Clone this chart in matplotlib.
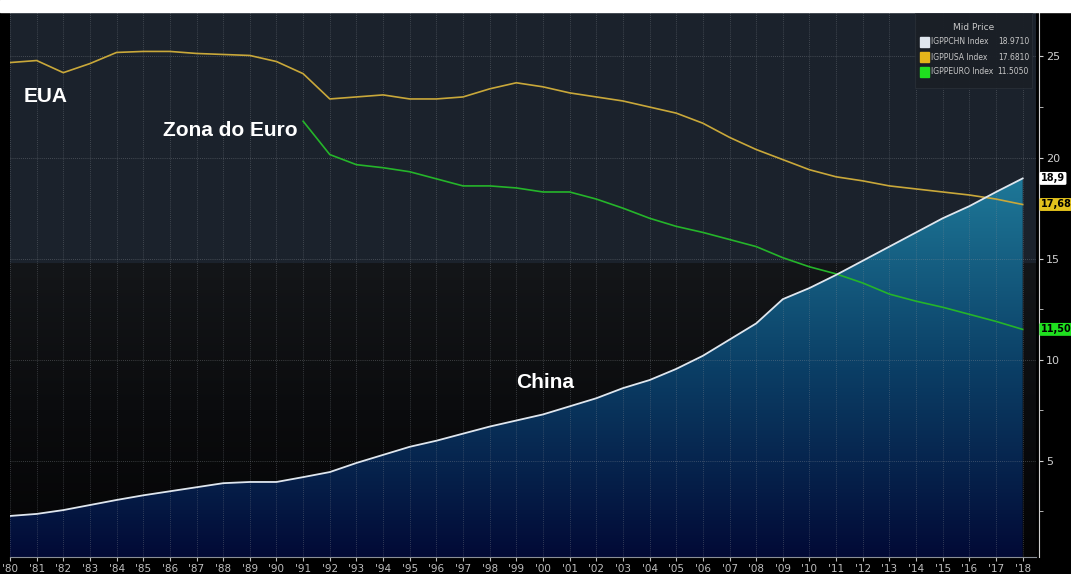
import matplotlib
matplotlib.use("Agg")
import matplotlib.pyplot as plt
import numpy as np
from matplotlib.colors import LinearSegmentedColormap

years = list(range(1980, 2019))
tick_labels = ["'%02d" % (y % 100) for y in years]

usa = [24.7, 24.8, 24.2, 24.65, 25.2, 25.25, 25.25, 25.15, 25.1, 25.05,
       24.75, 24.15, 22.9, 23.0, 23.1, 22.9, 22.9, 23.0, 23.4, 23.7,
       23.5, 23.2, 23.0, 22.8, 22.5, 22.2, 21.7, 21.0, 20.4, 19.9,
       19.4, 19.05, 18.85, 18.6, 18.45, 18.3, 18.15, 17.95, 17.681]

euro_years = list(range(1991, 2019))
euro = [21.8, 20.15, 19.65, 19.5, 19.3, 18.95, 18.6, 18.6, 18.5,
        18.3, 18.3, 17.95, 17.5, 17.0, 16.6, 16.3, 15.95, 15.6, 15.05,
        14.6, 14.25, 13.8, 13.25, 12.9, 12.6, 12.25, 11.9, 11.505]

china = [2.28, 2.38, 2.57, 2.82, 3.07, 3.3, 3.5, 3.7, 3.9, 3.96,
         3.96, 4.2, 4.45, 4.9, 5.3, 5.7, 6.0, 6.35, 6.7, 7.0,
         7.3, 7.7, 8.1, 8.6, 9.0, 9.55, 10.2, 11.0, 11.8, 13.0,
         13.55, 14.2, 14.9, 15.6, 16.3, 17.0, 17.6, 18.3, 18.971]

legend_names = ["IGPPCHN Index", "IGPPUSA Index", "IGPPEURO Index"]
legend_values = ["18.9710", "17.6810", "11.5050"]
tag_texts = ["18,9", "17,68", "11,50"]

c_china, c_usa, c_euro = "#dfe6ee", "#c9a83a", "#25b52a"
narrow = ["Liberation Sans Narrow", "DejaVu Sans"]

W, H = 1071, 574
fig = plt.figure(figsize=(W / 100, H / 100), dpi=100, facecolor="black")
# white strip on top
fig.patches.append(plt.Rectangle((0, 1 - 12 / H), 1, 12 / H, transform=fig.transFigure,
                                 color="white", zorder=0))
ax = fig.add_axes([10 / W, 17 / H, (1036 - 10) / W, (562 - 17) / H])
ax.set_facecolor("black")

xmin, xmax = 1980, 2018.5
ymin, ymax = 0.25, 27.2
ax.set_xlim(xmin, xmax)
ax.set_ylim(ymin, ymax)

# background bands
ax.axhspan(14.75, ymax, color="#1b222c", zorder=0)
bg = LinearSegmentedColormap.from_list("bg", ["#040405", "#0b0c0e", "#141619"])
grad = np.linspace(0, 1, 256).reshape(-1, 1)
ax.imshow(grad, cmap=bg, origin="lower", aspect="auto",
          extent=(xmin, xmax, ymin, 14.75), zorder=0)

# China area with vertical gradient
fill = ax.fill_between(years, china, ymin, color="none", lw=0, zorder=1)
fc = LinearSegmentedColormap.from_list("fc", ["#020a36", "#0b3f66", "#1e7898"])
img = ax.imshow(grad, cmap=fc, origin="lower", aspect="auto",
                extent=(xmin, 2018, ymin, 19.0), zorder=1)
img.set_clip_path(fill.get_paths()[0], transform=ax.transData)

# grid
for y in years:
    ax.axvline(y, color="#8a8f96", lw=0.6, ls=(0, (1, 1.5)), alpha=0.45, zorder=2)
for v in [5, 10, 15, 20, 25]:
    ax.axhline(v, color="#8a8f96", lw=0.6, ls=(0, (1, 1.5)), alpha=0.5, zorder=2)

ax.plot(years, usa, color=c_usa, lw=1.2, zorder=3)
ax.plot(euro_years, euro, color=c_euro, lw=1.2, zorder=3)
ax.plot(years, china, color=c_china, lw=1.3, zorder=4)

# labels on chart
bold = dict(color="white", fontsize=15, fontweight="bold", family="Liberation Sans", zorder=5)
ax.text(1980.5, 23.0, "EUA", ha="left", va="center", **bold)
ax.text(1985.75, 21.35, "Zona do Euro", ha="left", va="center", **bold)
ax.text(1999.0, 8.86, "China", ha="left", va="center", **bold)

# axes styling
ax.yaxis.tick_right()
ax.set_yticks([5, 10, 15, 20, 25])
ax.set_yticks([2.5, 7.5, 12.5, 17.5, 22.5], minor=True)
ax.set_xticks(years)
ax.set_xticklabels(tick_labels)
ax.tick_params(axis="y", which="both", colors="#d0d0d0", labelsize=8, length=3, pad=2)
ax.tick_params(axis="x", colors="#bfbfbf", labelsize=7.5, length=3, pad=2)
for lab in ax.get_xticklabels() + ax.get_yticklabels():
    lab.set_family(narrow)
for side in ["top", "left"]:
    ax.spines[side].set_visible(False)
ax.spines["right"].set_color("#d0d0d0")
ax.spines["bottom"].set_color("#8a8f96")
ax.spines["right"].set_position(("outward", 2))

# value tags at right
tag_vals = [china[-1], usa[-1], euro[-1]]
tag_face = ["white", "#e3c21c", "#1fe01f"]
for val, txt, fcol in zip(tag_vals, tag_texts, tag_face):
    ax.annotate(txt, xy=(1.0, val), xycoords=("axes fraction", "data"),
                xytext=(3.5, 0), textcoords="offset points", ha="left", va="center",
                fontsize=7, fontweight="bold", color="black", family=narrow,
                bbox=dict(boxstyle="round,pad=0.15", fc=fcol, ec="none"),
                annotation_clip=False)

# legend box
lx0, ly0, lx1, ly1 = 915 / W, 1 - 88 / H, 1032 / W, 1 - 13 / H
fig.patches.append(plt.Rectangle((lx0, ly0), lx1 - lx0, ly1 - ly0, transform=fig.transFigure,
                                 fc="#1a1f26", ec="#2a3038", lw=0.6, alpha=0.95, zorder=6))
fig.text((lx0 + lx1) / 2, 1 - 27 / H, "Mid Price", ha="center", va="center",
         color="#c8c8c8", fontsize=6.5, family=narrow, zorder=7)
for i, (name, val, col) in enumerate(zip(legend_names, legend_values, [c_china, "#e3b51a", "#1fe01f"])):
    yy = 1 - (42 + i * 15) / H
    fig.patches.append(plt.Rectangle((920 / W, yy - 5 / H), 9 / W, 10 / H, transform=fig.transFigure,
                                     color=col, zorder=7))
    fig.text(931 / W, yy, name, ha="left", va="center", color="#c8c8c8",
             fontsize=5.5, family=narrow, zorder=7)
    fig.text(1029 / W, yy, val, ha="right", va="center", color="#c8c8c8",
             fontsize=5.5, family=narrow, zorder=7)

fig.savefig("out.png", dpi=100, facecolor=fig.get_facecolor())
